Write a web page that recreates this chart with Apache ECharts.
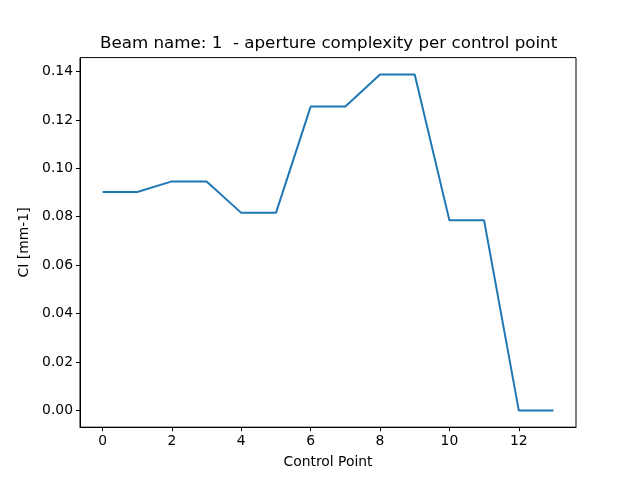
<!DOCTYPE html>
<html>
<head>
<meta charset="utf-8">
<script src="https://cdn.jsdelivr.net/npm/echarts@6/dist/echarts.min.js"></script>
<style>
  html, body { margin: 0; padding: 0; background: #fff; }
  #chart { width: 640px; height: 480px; }
</style>
</head>
<body>
<div id="chart"></div>
<script>
// control points and complexity values
var controlPoints = [0, 1, 2, 3, 4, 5, 6, 7, 8, 9, 10, 11, 12, 13];
var complexity = [0.0902, 0.0902, 0.0946, 0.0946, 0.0816, 0.0816, 0.1255, 0.1255,
  0.1388, 0.1388, 0.0785, 0.0785, 0.0, 0.0];
var xTicks = [0, 2, 4, 6, 8, 10, 12];
var yTicks = [0, 0.02, 0.04, 0.06, 0.08, 0.10, 0.12, 0.14];

var font = 'DejaVu Sans';

// matplotlib style 5% margins around data
var xMin = -0.65, xMax = 13.65;
var yPad = 0.1388 * 0.05;

var points = [];
for (var i = 0; i < controlPoints.length; i++) {
  points.push([controlPoints[i], complexity[i]]);
}

var chart = echarts.init(document.getElementById('chart'));

var option = {
  animation: false,
  backgroundColor: '#fff',
  title: {
    text: 'Beam name: 1  - aperture complexity per control point',
    left: 100,
    top: 35,
    padding: 0,
    textStyle: { fontFamily: font, fontSize: 16.7, fontWeight: 'normal', color: '#000' }
  },
  grid: {
    left: 80, right: 64, top: 57.6, bottom: 52.8,
    show: true, borderColor: '#000', borderWidth: 1
  },
  xAxis: {
    type: 'value',
    min: xMin,
    max: xMax,
    name: 'Control Point',
    nameLocation: 'middle',
    nameGap: 28,
    nameTextStyle: { fontFamily: font, fontSize: 13.9, color: '#000' },
    axisLine: { show: true, onZero: false, lineStyle: { color: '#000', width: 1 } },
    axisTick: { show: true, inside: false, length: 4, lineStyle: { color: '#000' }, customValues: xTicks },
    axisLabel: { fontFamily: font, fontSize: 13.9, color: '#000', margin: 7, customValues: xTicks },
    splitLine: { show: false }
  },
  yAxis: {
    type: 'value',
    min: -yPad,
    max: 0.1388 + yPad,
    name: 'CI [mm-1]',
    nameLocation: 'middle',
    nameGap: 43,
    nameTextStyle: { fontFamily: font, fontSize: 13.9, color: '#000' },
    axisLine: { show: true, onZero: false, lineStyle: { color: '#000', width: 1 } },
    axisTick: { show: true, inside: false, length: 4, lineStyle: { color: '#000' }, customValues: yTicks },
    axisLabel: {
      fontFamily: font, fontSize: 13.9, color: '#000', margin: 7, customValues: yTicks,
      formatter: function(v) { return v.toFixed(2); }
    },
    splitLine: { show: false }
  },
  series: [{
    type: 'line',
    data: points,
    showSymbol: false,
    lineStyle: { color: '#1f77b4', width: 2 },
    itemStyle: { color: '#1f77b4' }
  }]
};

chart.setOption(option);
</script>
</body>
</html>
